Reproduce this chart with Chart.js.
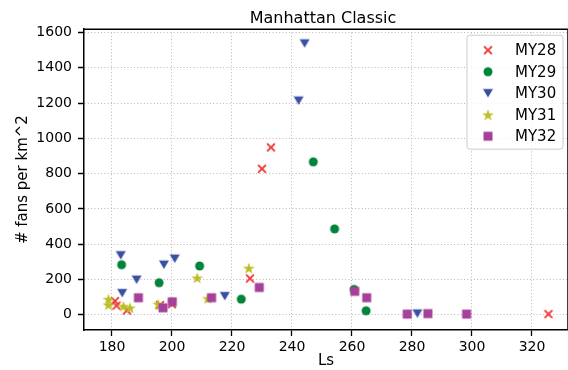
<!DOCTYPE html>
<html>
<head>
<meta charset="utf-8">
<script src="https://cdn.jsdelivr.net/npm/chart.js@4.4.0/dist/chart.umd.min.js"></script>
<style>
    html, body { margin: 0; padding: 0; background: #fff; }
</style>
</head>
<body>
<canvas id="scatter" width="568" height="370"></canvas>
<script>
// values (Ls, fans per km^2)
const seriesNames = ['MY28', 'MY29', 'MY30', 'MY31', 'MY32'];

const my28Ls   = [181, 181.5, 185, 196, 200, 226, 230, 233, 325.5];
const my28Fans = [78, 52, 25, 55, 60, 206, 828, 949, 4];

const my29Ls   = [183.2, 195.7, 209.2, 223.1, 247.1, 254.2, 260.7, 264.7];
const my29Fans = [284, 182, 277, 89, 867, 487, 144, 23];

const my30Ls   = [182.9, 183.4, 188.2, 197.3, 200.9, 217.6, 242.2, 244.2, 281.8];
const my30Fans = [337, 123, 199, 284, 318, 106, 1214, 1538, 7];

const my31Ls   = [178.8, 178.8, 183.8, 186, 195.4, 208.4, 211.9, 225.6];
const my31Fans = [89, 57, 49, 40, 61, 210, 93, 265];

const my32Ls   = [188.8, 197, 200.1, 213.2, 229.1, 260.9, 264.9, 278.4, 285.3, 298.2];
const my32Fans = [97, 40, 74, 97, 155, 133, 97, 4, 7, 4];

const xTicks = [180, 200, 220, 240, 260, 280, 300, 320];
const yTicks = [0, 200, 400, 600, 800, 1000, 1200, 1400, 1600];

const colors = ['#ef3b3b', '#00843c', '#3a50a2', '#bcbd22', '#a5409b'];
const shapes = ['x', 'circle', 'triDown', 'star', 'square'];

// marker images, drawn like matplotlib markers
function makeMarker(shape, color) {
    const s = 16, m = s / 2;
    const c = document.createElement('canvas');
    c.width = s; c.height = s;
    const g = c.getContext('2d');
    g.fillStyle = color;
    g.strokeStyle = color;
    g.beginPath();
    if (shape === 'x') {
        g.lineWidth = 2;
        g.moveTo(m - 3.9, m - 3.9); g.lineTo(m + 3.9, m + 3.9);
        g.moveTo(m + 3.9, m - 3.9); g.lineTo(m - 3.9, m + 3.9);
        g.stroke();
    } else if (shape === 'circle') {
        g.arc(m, m, 4.5, 0, Math.PI * 2);
        g.fill();
    } else if (shape === 'square') {
        g.rect(m - 4.5, m - 4.5, 9, 9);
        g.fill();
    } else if (shape === 'triDown') {
        g.moveTo(m - 5, m - 4.3);
        g.lineTo(m + 5, m - 4.3);
        g.lineTo(m, m + 4.3);
        g.closePath();
        g.fill();
    } else if (shape === 'star') {
        for (let i = 0; i < 10; i++) {
            const r = i % 2 === 0 ? 6.2 : 2.4;
            const a = -Math.PI / 2 + i * Math.PI / 5;
            const px = m + r * Math.cos(a), py = m + 0.6 + r * Math.sin(a);
            if (i === 0) g.moveTo(px, py); else g.lineTo(px, py);
        }
        g.closePath();
        g.fill();
    }
    return c;
}

const lsArrays = [my28Ls, my29Ls, my30Ls, my31Ls, my32Ls];
const fanArrays = [my28Fans, my29Fans, my30Fans, my31Fans, my32Fans];

const datasets = seriesNames.map((name, i) => ({
    label: name,
    data: lsArrays[i].map((x, j) => ({ x: x, y: fanArrays[i][j] })),
    pointStyle: makeMarker(shapes[i], colors[i]),
    pointRadius: 5,
    backgroundColor: colors[i],
    borderColor: colors[i],
    order: seriesNames.length - i
}));

// the plot area runs up to the right edge of the canvas
const stretchPlugin = {
    id: 'stretch',
    afterLayout(chart) {
        const area = chart.chartArea;
        const xs = chart.scales.x;
        area.right = chart.width;
        area.width = area.right - area.left;
        xs.right = area.right;
        xs.width = xs.right - xs.left;
        xs.configure();
    }
};

// top and right spines
const framePlugin = {
    id: 'frame',
    afterDatasetsDraw(chart) {
        const a = chart.chartArea, ctx = chart.ctx;
        ctx.save();
        ctx.strokeStyle = '#000';
        ctx.lineWidth = 1.5;
        ctx.beginPath();
        ctx.moveTo(a.left, a.top);
        ctx.lineTo(a.right, a.top);
        ctx.lineTo(a.right, a.bottom);
        ctx.stroke();
        ctx.restore();
    }
};

// matplotlib style legend box in the upper right
const legendPlugin = {
    id: 'boxLegend',
    afterDatasetsDraw(chart) {
        const a = chart.chartArea, ctx = chart.ctx;
        const w = 96, h = 114, rowH = 21.5;
        const left = a.right - w - 5, top = a.top + 6;
        ctx.save();
        ctx.beginPath();
        ctx.roundRect(left, top, w, h, 3);
        ctx.fillStyle = 'rgba(255,255,255,0.8)';
        ctx.fill();
        ctx.strokeStyle = '#cccccc';
        ctx.lineWidth = 1;
        ctx.stroke();
        ctx.font = '15px "DejaVu Sans"';
        ctx.fillStyle = '#000';
        ctx.textBaseline = 'middle';
        chart.data.datasets.forEach((ds, i) => {
            const y = top + 15 + i * rowH;
            const img = ds.pointStyle;
            ctx.drawImage(img, left + 21 - img.width / 2, y - img.height / 2);
            ctx.fillText(ds.label, left + 48, y + 1);
        });
        ctx.restore();
    }
};

const gridOpts = {
    color: '#b0b0b0',
    lineWidth: 0.9,
    tickColor: '#000',
    tickLength: 6,
    tickWidth: 1.3,
    tickBorderDash: [1, 0]
};
const borderOpts = { color: '#000', width: 1.5, dash: [1, 2.3] };
const plainNumber = v => String(v);

new Chart(document.getElementById('scatter'), {
    type: 'scatter',
    data: { datasets: datasets },
    options: {
        responsive: false,
        animation: false,
        events: [],
        layout: { padding: 0 },
        scales: {
            x: {
                type: 'linear',
                min: 170.67,
                max: 332,
                afterBuildTicks: s => { s.ticks = xTicks.map(v => ({ value: v })); },
                afterFit: s => { s.height = 40; s.paddingLeft = 0; s.paddingRight = 0; },
                grid: gridOpts,
                border: borderOpts,
                ticks: { font: { family: 'DejaVu Sans', size: 14 }, color: '#000', padding: 3, maxRotation: 0, callback: plainNumber },
                title: { display: true, text: 'Ls', font: { family: 'DejaVu Sans', size: 15 }, color: '#000', padding: { top: 0, bottom: 0 } }
            },
            y: {
                type: 'linear',
                min: -86,
                max: 1619,
                afterBuildTicks: s => { s.ticks = yTicks.map(v => ({ value: v })); },
                afterFit: s => { s.width = 84; s.paddingTop = 0; s.paddingBottom = 0; },
                grid: gridOpts,
                border: borderOpts,
                ticks: { font: { family: 'DejaVu Sans', size: 14 }, color: '#000', padding: 6, callback: plainNumber },
                title: { display: true, text: '# fans per km^2', font: { family: 'DejaVu Sans', size: 15 }, color: '#000', padding: { top: 14, bottom: 0 } }
            }
        },
        plugins: {
            legend: { display: false },
            tooltip: { enabled: false },
            title: {
                display: true,
                fullSize: false,
                text: 'Manhattan Classic',
                font: { family: 'DejaVu Sans', size: 16, weight: 'normal' },
                color: '#000',
                padding: { top: 9, bottom: 1 }
            }
        }
    },
    plugins: [stretchPlugin, framePlugin, legendPlugin]
});
</script>
</body>
</html>
